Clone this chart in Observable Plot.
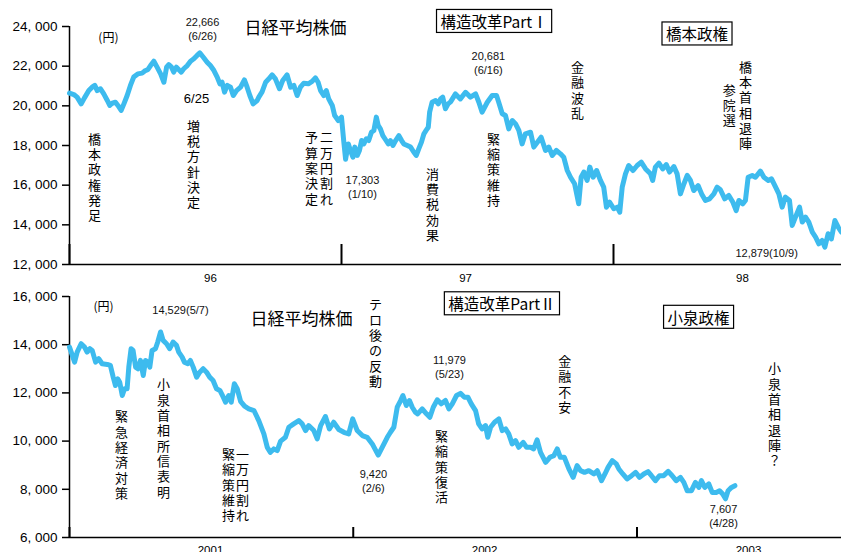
<!DOCTYPE html>
<html><head><meta charset="utf-8">
<script src="https://cdn.jsdelivr.net/npm/d3@7"></script>
<script src="https://cdn.jsdelivr.net/npm/@observablehq/plot@0.6"></script>
<style>
body{margin:0;background:#fff;}
#chart svg{display:block;}
</style></head><body><div id="chart"></div>
<script>
// ---------- Data: Nikkei 225 (円), panel 1 (Hashimoto era) ----------
const topBaseYear = 1996;
const topYearOffset = [
 0.000,0.016,0.028,0.043,0.055,0.071,0.083,0.093,0.102,0.114,
 0.126,0.139,0.148,0.157,0.169,0.178,0.190,0.200,0.212,0.224,
 0.236,0.251,0.267,0.279,0.288,0.298,0.310,0.322,0.335,0.347,
 0.357,0.365,0.375,0.383,0.393,0.402,0.411,0.420,0.433,0.445,
 0.457,0.469,0.479,0.492,0.506,0.518,0.531,0.543,0.553,0.561,
 0.570,0.580,0.592,0.602,0.614,0.629,0.643,0.653,0.663,0.675,
 0.690,0.696,0.708,0.721,0.733,0.745,0.757,0.772,0.784,0.800,
 0.813,0.825,0.837,0.849,0.861,0.878,0.892,0.904,0.914,0.923,
 0.935,0.944,0.953,0.966,0.975,0.988,1.000,1.008,1.015,1.025,
 1.033,1.042,1.049,1.058,1.066,1.074,1.082,1.091,1.100,1.110,
 1.119,1.128,1.135,1.143,1.152,1.162,1.172,1.180,1.189,1.199,
 1.211,1.221,1.229,1.242,1.254,1.266,1.275,1.284,1.294,1.303,
 1.311,1.319,1.324,1.333,1.346,1.356,1.364,1.372,1.382,1.392,
 1.401,1.419,1.437,1.456,1.474,1.493,1.505,1.517,1.536,1.554,
 1.570,1.578,1.591,1.603,1.615,1.628,1.640,1.652,1.664,1.676,
 1.695,1.707,1.725,1.734,1.750,1.762,1.775,1.790,1.805,1.817,
 1.830,1.842,1.857,1.872,1.881,1.891,1.903,1.913,1.925,1.938,
 1.952,1.964,1.974,1.986,2.001,2.014,2.023,2.032,2.044,2.056,
 2.072,2.087,2.102,2.118,2.136,2.144,2.154,2.167,2.181,2.194,
 2.206,2.222,2.234,2.246,2.259,2.271,2.283,2.295,2.311,2.324,
 2.338,2.353,2.369,2.381,2.393,2.409,2.424,2.439,2.451,2.461,
 2.475,2.485,2.495,2.510,2.522,2.540,2.553,2.569,2.581,2.596,
 2.608,2.620,2.632,2.647,2.657,2.669,2.684,2.694,2.706,2.718,
 2.731,2.743,2.755,2.767,2.777,2.789,2.801,2.814,2.826,2.838
];
const topIndex = [
 20640,20570,20440,20100,20400,20770,20940,21030,20770,20860,
 20600,20270,20020,20130,20180,20020,19770,20100,20520,21030,
 21450,21610,21650,21780,21820,22030,22250,21950,21610,21190,
 21950,22080,21950,21700,21950,21820,21700,21870,22030,22250,
 22370,22540,22666,22450,22200,22030,21780,21450,21110,21190,
 20690,21030,20940,20520,20770,20940,21310,20940,20520,20100,
 20270,20440,20700,21190,21360,21560,21360,20860,21280,21560,
 20940,21030,20520,20940,21140,21110,21230,21410,21190,20770,
 20520,20770,20350,20020,19510,19260,19430,18250,17303,18080,
 17750,17410,17920,17500,17750,18250,18080,18340,18250,18670,
 18760,19430,19010,18840,18500,18290,18080,18250,18000,18250,
 18500,18250,18080,18000,17920,17660,17500,17830,18170,18590,
 18760,18920,19680,20180,20270,20100,20350,20440,19850,20100,
 20200,20600,20350,20681,20440,20605,20180,19680,20180,20520,
 20520,20180,19600,19510,18840,19260,19090,18760,18080,18590,
 18670,17920,18250,18420,17750,17920,17500,17750,17580,17410,
 16740,16400,16070,15060,16400,16660,16240,16910,16400,16740,
 16240,15900,14890,15140,14810,14890,14640,15900,16570,16990,
 16740,16990,17160,16820,16570,16240,16910,17110,16820,17040,
 16660,16940,16570,15560,16070,16490,16240,15730,15980,15560,
 15230,15310,15560,15900,15770,15310,15480,15140,14720,15230,
 15060,15230,16400,16490,16400,16710,16400,16240,16320,15900,
 15560,14890,15400,15230,13970,14390,14890,14140,14390,14140,
 13630,13380,13040,13210,12879,13550,13290,14220,13880,13630
];

// ---------- Data: panel 2 (Koizumi era) ----------
const bottomBaseYear = 2001;
const bottomYearOffset = [
 0.000,0.010,0.018,0.027,0.041,0.053,0.062,0.072,0.080,0.092,
 0.103,0.115,0.133,0.144,0.154,0.162,0.170,0.177,0.186,0.194,
 0.203,0.209,0.217,0.224,0.233,0.241,0.250,0.260,0.268,0.276,
 0.283,0.291,0.303,0.311,0.321,0.330,0.342,0.353,0.365,0.377,
 0.385,0.397,0.405,0.417,0.426,0.436,0.448,0.459,0.471,0.483,
 0.494,0.506,0.518,0.530,0.542,0.550,0.561,0.570,0.581,0.591,
 0.603,0.617,0.632,0.650,0.667,0.685,0.697,0.708,0.720,0.732,
 0.744,0.761,0.773,0.790,0.808,0.820,0.832,0.843,0.861,0.873,
 0.885,0.902,0.916,0.931,0.949,0.967,0.984,0.998,1.014,1.032,
 1.049,1.067,1.088,1.102,1.120,1.131,1.143,1.155,1.167,1.175,
 1.187,1.198,1.208,1.219,1.227,1.243,1.258,1.270,1.282,1.296,
 1.310,1.325,1.337,1.349,1.364,1.378,1.392,1.404,1.416,1.431,
 1.442,1.454,1.466,1.474,1.484,1.498,1.513,1.525,1.537,1.548,
 1.560,1.572,1.583,1.599,1.611,1.625,1.636,1.648,1.660,1.678,
 1.693,1.707,1.719,1.730,1.744,1.760,1.775,1.789,1.801,1.815,
 1.830,1.848,1.860,1.875,1.887,1.898,1.913,1.927,1.936,1.950,
 1.965,1.981,1.995,2.009,2.024,2.039,2.051,2.065,2.079,2.094,
 2.110,2.124,2.138,2.153,2.165,2.177,2.192,2.206,2.218,2.227,
 2.239,2.253,2.265,2.279,2.291,2.302,2.312,2.321,2.333,2.345
];
const bottomIndex = [
 13900,13555,13277,13693,14041,13900,13693,13833,13763,13277,
 13417,13209,13181,13139,12653,12308,12586,12445,11892,12171,
 12171,13069,13833,13763,13069,13002,13347,12724,13347,13277,
 13069,13763,13833,14110,14529,14179,14041,13833,14110,13971,
 13693,13485,13277,13209,13347,13069,12653,12861,13002,12861,
 12653,12516,12171,12100,11821,11613,11892,11613,12378,12171,
 11650,11450,11339,11268,10852,10300,9742,9534,9676,9605,
 10000,10158,10574,10715,10852,10715,10437,10644,10437,10090,
 10644,11020,10507,10782,10480,10366,10300,10921,10437,10229,
 10158,9883,9420,9742,10158,10366,10574,11405,11684,11892,
 11476,11684,11405,11198,11131,11339,11131,10990,11405,11713,
 11547,11684,11339,11547,11892,11979,11821,11821,11547,11268,
 10715,10507,10644,10158,10574,10782,10921,10437,10507,10300,
 9883,10020,9742,9950,9742,9742,9676,10050,9534,9119,
 9327,9397,9676,9327,9327,8844,8495,8981,8773,8703,
 8773,8636,8773,8358,8636,8911,9189,9052,8844,8636,
 8428,8565,8703,8495,8636,8732,8565,8358,8565,8565,
 8744,8565,8358,8495,8287,7942,7942,8287,8079,8358,
 8079,8220,7871,7871,7942,7804,7607,7942,8079,8150
];

// ---------- Axes ----------
const topYTicks = [12000,14000,16000,18000,20000,22000,24000];
const bottomYTicks = [6000,8000,10000,12000,14000,16000];
const topYearStarts = [1996,1997,1998];
const bottomYearStarts = [2001,2002,2003];
const topYearLabels = ["96","97","98"];
const topYearLabelAt = [1996.518,1997.456,1998.474];
const bottomYearLabels = ["2001","2002","2003"];
const bottomYearLabelAt = [2001.497,2002.463,2003.393];

// ---------- Annotations (anchored in data space: year, 円) ----------
const topEvents = [
 {label:"橋本政権発足", t:1996.092, v:16412},
 {label:"増税方針決定", t:1996.456, v:17067},
 {label:"予算案決定", t:1996.890, v:16866},
 {label:"二万円割れ", t:1996.945, v:16866},
 {label:"消費税効果", t:1997.335, v:15025},
 {label:"緊縮策維持", t:1997.559, v:16790},
 {label:"金融波乱", t:1997.868, v:20798},
 {label:"参院選", t:1998.426, v:20042},
 {label:"橋本首相退陣", t:1998.485, v:20042}
];
const topMarks = [
 {label:"22,666\n(6/26)", t:1996.489, v:23899},
 {label:"17,303\n(1/10)", t:1997.077, v:15933},
 {label:"20,681\n(6/16)", t:1997.540, v:22160},
 {label:"12,879(10/9)", t:1998.563, v:12605}
];
const topDateNote = [{label:"6/25", t:1996.467, v:20370}];
const topTitle = [{label:"日経平均株価", t:1996.831, v:23899}];
const topUnit = [{label:"(円)", t:1996.143, v:23395}];
const topBoxes = [
 {label:"構造改革PartⅠ", t:1997.561, v:24177},
 {label:"橋本政権", t:1998.307, v:23546}
];

const bottomEvents = [
 {label:"緊急経済対策", t:2001.183, v:9439},
 {label:"小泉首相所信表明", t:2001.331, v:10125},
 {label:"緊縮策維持", t:2001.560, v:8191},
 {label:"一万円割れ", t:2001.610, v:8191},
 {label:"テロ後の反動", t:2002.078, v:14075},
 {label:"緊縮策復活", t:2002.311, v:8940},
 {label:"金融不安", t:2002.745, v:12370},
 {label:"小泉首相退陣？", t:2003.485, v:11102}
];
const bottomMarks = [
 {label:"14,529(5/7)", t:2001.391, v:15468},
 {label:"9,420\n(2/6)", t:2002.071, v:8358},
 {label:"11,979\n(5/23)", t:2002.339, v:13077},
 {label:"7,607\n(4/28)", t:2003.305, v:6923}
];
const bottomTitle = [{label:"日経平均株価", t:2001.818, v:15052}];
const bottomUnit = [{label:"(円)", t:2001.120, v:15551}];
const bottomBoxes = [
 {label:"構造改革PartⅡ", t:2002.524, v:15634},
 {label:"小泉政権", t:2003.217, v:15073}
];

// ---------- Rendering ----------
const LINE = "#3dbbee";
const NUMFONT = "'Liberation Sans', Arial, sans-serif";
const JPFONT = "'Noto Sans CJK JP', sans-serif";
const fmtY = d => d3.format(",")(d).replace(",", ", ");

function panel(cfg) {
  const data = cfg.offsets.map((o, i) => ({t: cfg.base + o, v: cfg.values[i]}));
  const frameH = cfg.height - cfg.marginTop - cfg.marginBottom;
  const xDomain = [cfg.base, cfg.base + cfg.span];
  return Plot.plot({
    width: 841, height: cfg.height,
    marginLeft: 69, marginRight: 0, marginTop: cfg.marginTop, marginBottom: cfg.marginBottom,
    style: {fontFamily: JPFONT, background: "white", color: "black", overflow: "visible"},
    x: {domain: xDomain, axis: null, label: null},
    y: {domain: cfg.yDomain, axis: null, label: null},
    marks: [
      Plot.axisY(cfg.yTicks, {anchor: "left", tickSize: 7, tickPadding: 5, tickFormat: fmtY, label: null,
        fontSize: 13.5, fontFamily: NUMFONT, strokeWidth: 1.5}),
      Plot.axisX(cfg.yearLabelAt, {anchor: "bottom", tickSize: 0, tickPadding: cfg.labelPad, label: null,
        tickFormat: d => cfg.yearLabels[cfg.yearLabelAt.indexOf(d)], fontSize: 11.5, fontFamily: NUMFONT}),
      Plot.ruleX([xDomain[0]], {strokeWidth: 1.5}),
      Plot.ruleY([cfg.yDomain[0]], {strokeWidth: 1.5}),
      Plot.ruleX(cfg.yearStarts, {strokeWidth: 2, insetTop: frameH - cfg.tickLen}),
      Plot.line(data, {x: "t", y: "v", stroke: LINE, strokeWidth: 5, strokeLinejoin: "round", strokeLinecap: "round"}),
      Plot.text(cfg.events, {x: "t", y: "v", text: d => [...d.label].join("\n"),
        lineAnchor: "middle", lineHeight: 1.18, fontSize: 13, fill: "black"}),
      Plot.text(cfg.marks, {x: "t", y: "v", text: "label", lineAnchor: "middle", lineHeight: 1.27,
        fontSize: 11, fontFamily: NUMFONT, fill: "#111"}),
      ...(cfg.dateNote ? [Plot.text(cfg.dateNote, {x: "t", y: "v", text: "label", fontSize: 13, fontFamily: NUMFONT})] : []),
      Plot.text(cfg.title, {x: "t", y: "v", text: "label", fontSize: 17}),
      Plot.text(cfg.unit, {x: "t", y: "v", text: "label", fontSize: 12}),
      Plot.text(cfg.boxes, {x: "t", y: "v", text: "label", fontSize: 15.5})
    ]
  });
}

const chart = document.getElementById("chart");
chart.append(panel({
  base: topBaseYear, span: 772 / 272, offsets: topYearOffset, values: topIndex,
  height: 283, marginTop: 26, marginBottom: 19, yDomain: [12000, 24000], yTicks: topYTicks,
  yearStarts: topYearStarts, yearLabelAt: topYearLabelAt, yearLabels: topYearLabels, labelPad: 9, tickLen: 20,
  events: topEvents, marks: topMarks, dateNote: topDateNote, title: topTitle, unit: topUnit, boxes: topBoxes
}));
chart.append(panel({
  base: bottomBaseYear, span: 772 / 283.75, offsets: bottomYearOffset, values: bottomIndex,
  height: 269, marginTop: 13, marginBottom: 15, yDomain: [6000, 16000], yTicks: bottomYTicks,
  yearStarts: bottomYearStarts, yearLabelAt: bottomYearLabelAt, yearLabels: bottomYearLabels, labelPad: 8, tickLen: 10,
  events: bottomEvents, marks: bottomMarks, dateNote: null, title: bottomTitle, unit: bottomUnit, boxes: bottomBoxes
}));

// draw frames around the boxed labels
const boxedLabels = new Set([...topBoxes, ...bottomBoxes].map(d => d.label));
document.querySelectorAll("#chart svg text").forEach(t => {
  if (!boxedLabels.has(t.textContent)) return;
  const b = t.getBBox();
  const r = document.createElementNS("http://www.w3.org/2000/svg", "rect");
  r.setAttribute("x", b.x - 4);
  r.setAttribute("y", b.y - 0.5);
  r.setAttribute("width", b.width + 8);
  r.setAttribute("height", b.height + 1);
  r.setAttribute("fill", "white");
  r.setAttribute("stroke", "black");
  r.setAttribute("stroke-width", 1.2);
  if (t.getAttribute("transform")) r.setAttribute("transform", t.getAttribute("transform"));
  t.parentNode.insertBefore(r, t);
});
</script>
</body></html>
